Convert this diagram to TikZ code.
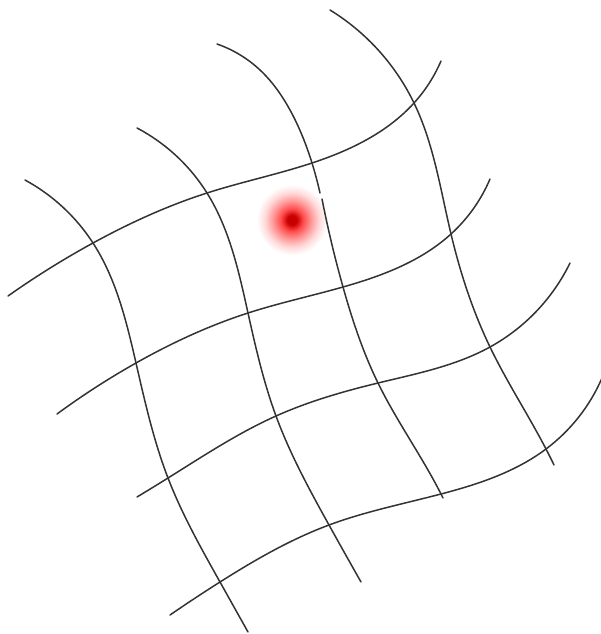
\documentclass[tikz,border=0pt]{standalone}
\usetikzlibrary{hobby}
\pgfdeclareradialshading{reddot}{\pgfpoint{0bp}{0bp}}{%
  color(0bp)=(red!75!black);
  color(3bp)=(red!80!black);
  color(7bp)=(red!70);
  color(12bp)=(red!40);
  color(17bp)=(red!15);
  color(22bp)=(white);
  color(50bp)=(white)}
\tikzset{
  gridline/.style={draw=black!80, line width=1.5pt, line cap=round, use Hobby shortcut},
  hotspot/.style={shading=reddot}
}

\begin{document}
\begin{tikzpicture}[x=1pt, y=-1pt]
  \useasboundingbox (0,0) rectangle (601,634);

  % crossings: c<row><column>
  \coordinate (c11) at (93,243);
  \coordinate (c12) at (207,193);
  \coordinate (c13) at (312,163);
  \coordinate (c14) at (414,103);
  \coordinate (c21) at (136,363);
  \coordinate (c22) at (248,313);
  \coordinate (c23) at (343,287);
  \coordinate (c24) at (451,234);
  \coordinate (c31) at (168,478);
  \coordinate (c32) at (276,416);
  \coordinate (c33) at (378,383);
  \coordinate (c34) at (490,347);
  \coordinate (c41) at (220,582);
  \coordinate (c42) at (329,525);
  \coordinate (c43) at (441,494);
  \coordinate (c44) at (546,449);

  % free ends
  \coordinate (h1a) at (8,296);    \coordinate (h1b) at (441,61);
  \coordinate (h2a) at (57,414);   \coordinate (h2b) at (490,179);
  \coordinate (h3a) at (137,497);  \coordinate (h3b) at (570,263);
  \coordinate (h4a) at (170,615);  \coordinate (h4b) at (602,378);
  \coordinate (v1a) at (25,180);   \coordinate (v1b) at (248,632);
  \coordinate (v2a) at (137,128);  \coordinate (v2b) at (361,582);
  \coordinate (v3a) at (217,44);   \coordinate (v3b) at (443,498);
  \coordinate (v4a) at (330,10);   \coordinate (v4b) at (554,465);
  \coordinate (gap1) at (320,193); \coordinate (gap2) at (322,199);

  \shade[hotspot] (292,220) circle (40);

  % rows
  \draw[gridline] (h1a) .. (c11) .. (c12) .. (c13) .. (c14) .. (h1b);
  \draw[gridline] (h2a) .. (c21) .. (c22) .. (c23) .. (c24) .. (h2b);
  \draw[gridline] (h3a) .. (c31) .. (c32) .. (c33) .. (c34) .. (h3b);
  \draw[gridline] (h4a) .. (c41) .. (c42) .. (c43) .. (c44) .. (h4b);

  % columns
  \draw[gridline] (v1a) .. (c11) .. (c21) .. (c31) .. (c41) .. (v1b);
  \draw[gridline] (v2a) .. (c12) .. (c22) .. (c32) .. (c42) .. (v2b);
  \draw[gridline] (v3a) .. (260,70) .. (290,110) .. (c13) .. (gap1);
  \draw[gridline] (gap2) .. (c23) .. (c33) .. (c43) .. (v3b);
  \draw[gridline] (v4a) .. (c14) .. (c24) .. (c34) .. (c44) .. (v4b);
\end{tikzpicture}
\end{document}
